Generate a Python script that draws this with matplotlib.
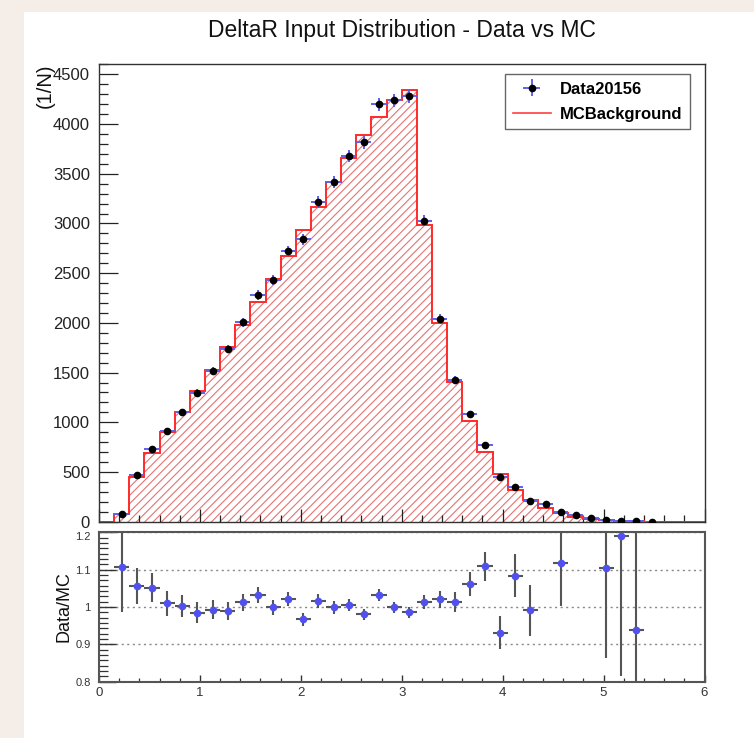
import numpy as np
import matplotlib
matplotlib.use("Agg")
import matplotlib.pyplot as plt
from matplotlib.patches import Rectangle
from matplotlib.lines import Line2D
from matplotlib.ticker import MultipleLocator

plt.rcParams['font.family'] = ['Liberation Sans', 'DejaVu Sans']
plt.rcParams['hatch.linewidth'] = 0.8

# Binning: 40 bins of width 0.15 between 0 and 6
bin_edges = np.linspace(0.0, 6.0, 41)
bin_centers = 0.5 * (bin_edges[:-1] + bin_edges[1:])

# Observed event counts per bin
data_counts = [
    0, 82, 470, 732, 913, 1105, 1296, 1515, 1735, 2005,
    2280, 2435, 2725, 2840, 3215, 3415, 3680, 3815, 4200, 4240,
    4280, 3026, 2040, 1430, 1080, 775, 445, 350, 212, 175,
    94, 64, 38, 21, 10, 3, 2, 0, 0, 0,
]

# Simulated background prediction per bin
mc_counts = [
    0, 74, 445, 696, 904, 1102, 1316, 1527, 1754, 1981,
    2209, 2437, 2669, 2937, 3164, 3418, 3662, 3893, 4070, 4244,
    4341, 2987, 1998, 1410, 1017, 699, 478, 323, 214, 135,
    84, 50, 28, 19, 8.4, 3.2, 0, 0, 0, 0,
]

main_yticks = [0, 500, 1000, 1500, 2000, 2500, 3000, 3500, 4000, 4500]
ratio_yticks = [0.8, 0.9, 1.0, 1.1, 1.2]
ratio_ytick_labels = ['0.8', '0.9', '1', '1.1', '1.2']
xticks = [0, 1, 2, 3, 4, 5, 6]

data = np.array(data_counts, dtype=float)
mc = np.array(mc_counts, dtype=float)
half_width = 0.075
ratio_lo, ratio_hi = 0.8, 1.2

W, H = 754, 738
fig = plt.figure(figsize=(W / 100, H / 100), dpi=100, facecolor='#f5ede8')
fig.patches.append(Rectangle((24 / W, 0), 1 - 24 / W, 1 - 12 / H,
                             transform=fig.transFigure, facecolor='white',
                             edgecolor='none', zorder=-10))

def px_axes(left, top, right, bottom):
    return fig.add_axes([left / W, 1 - bottom / H, (right - left) / W, (bottom - top) / H])

ax = px_axes(99, 64, 704.5, 521.7)
rax = px_axes(99, 532.3, 704.5, 681.7)

# ---- main panel: MC histogram (hatched) and data points ----
mc_step = np.append(mc, mc[-1])
ax.fill_between(bin_edges, 0, mc_step, step='post', facecolor='none',
                edgecolor='#e87272', hatch='////', linewidth=0, zorder=1)
ax.stairs(mc, bin_edges, color='#ff2a2a', linewidth=1.4, zorder=2)

sel = data > 0
ax.errorbar(bin_centers[sel], data[sel], xerr=half_width, yerr=np.sqrt(data[sel]),
            fmt='none', ecolor='#6060ee', elinewidth=1.4, capsize=0, zorder=3)
ax.plot(bin_centers[sel], data[sel], 'o', color='black', markersize=4.5, zorder=4)

ax.set_xlim(0, 6)
ax.set_ylim(0, 4604)
ax.set_yticks(main_yticks)
ax.yaxis.set_minor_locator(MultipleLocator(100))
ax.set_xticks(xticks)
ax.xaxis.set_minor_locator(MultipleLocator(0.2))
ax.tick_params(axis='y', which='major', direction='in', length=13.7, width=0.9,
               labelsize=12, pad=6.5, colors='#222222')
ax.tick_params(axis='y', which='minor', direction='in', length=6.5, width=0.9,
               colors='#222222')
ax.tick_params(axis='x', which='major', direction='in', length=9.4, width=0.9,
               labelbottom=False, colors='#222222')
ax.tick_params(axis='x', which='minor', direction='in', length=4.7, width=0.9,
               colors='#222222')
for s in ax.spines.values():
    s.set_color('#333333')
    s.set_linewidth(1.0)

fig.text(45 / W, 1 - 63 / H, '(1/N)', rotation=90, ha='center', va='top',
         fontsize=14.5, color='#111111')

data_handle = ax.errorbar([], [], xerr=[], yerr=[], fmt='o', color='black',
                          ecolor='#6060ee', markersize=4.5, elinewidth=1.4)
mc_handle = Line2D([], [], color='#ff4040', linewidth=1.2)
leg = ax.legend([data_handle, mc_handle], ['Data20156', 'MCBackground'],
                loc='upper right', bbox_to_anchor=(690 / W, 1 - 74 / H),
                bbox_transform=fig.transFigure, borderaxespad=0, fancybox=False,
                framealpha=1, edgecolor='#666666',
                prop={'weight': 'bold', 'size': 12},
                borderpad=0.45, handlelength=2.3, handletextpad=0.55,
                labelspacing=0.6)
leg.get_frame().set_linewidth(1.0)

fig.text(402 / W, 1 - 30 / H, 'DeltaR Input Distribution - Data vs MC',
         ha='center', va='center', fontsize=16.5, color='#111111')

# ---- ratio panel: only points inside the displayed range are drawn ----
ok = (mc > 0) & (data > 0)
ratio = np.zeros_like(data)
ratio[ok] = data[ok] / mc[ok]
ok &= (ratio >= ratio_lo) & (ratio <= ratio_hi)
ratio_err = np.sqrt(data[ok]) / mc[ok]
for yv in [0.9, 1.0, 1.1, 1.2]:
    rax.axhline(yv, color='#888888', linestyle=(0, (1.5, 2.5)), linewidth=1.0, zorder=1)
rax.errorbar(bin_centers[ok], ratio[ok], xerr=half_width, yerr=ratio_err, fmt='none',
             ecolor='#555555', elinewidth=1.5, capsize=0, zorder=2)
rax.plot(bin_centers[ok], ratio[ok], 'o', color='#5050ee', markersize=4.5, zorder=3)

rax.set_xlim(0, 6)
rax.set_ylim(ratio_lo, ratio_hi)
rax.set_yticks(ratio_yticks)
rax.set_yticklabels(ratio_ytick_labels)
rax.get_yticklabels()[-1].set_va('top')
rax.yaxis.set_minor_locator(MultipleLocator(0.1 / 7))
rax.set_xticks(xticks)
rax.xaxis.set_minor_locator(MultipleLocator(0.2))
rax.tick_params(axis='y', which='major', direction='in', length=12, width=1.0,
                labelsize=8, pad=6, colors='#333333')
rax.tick_params(axis='y', which='minor', direction='in', length=6.5, width=0.9,
                colors='#333333')
rax.tick_params(axis='x', which='major', direction='in', length=5, width=1.0,
                labelsize=9.5, pad=4, colors='#333333')
rax.tick_params(axis='x', which='minor', direction='in', length=3, width=0.9,
                colors='#333333')
rax.set_ylabel('Data/MC', fontsize=13, color='#111111')
rax.yaxis.set_label_coords(73 / W, 1 - 607 / H, transform=fig.transFigure)
for s in rax.spines.values():
    s.set_color('#555555')
    s.set_linewidth(1.5)

fig.savefig('out.png', dpi=100, facecolor=fig.get_facecolor())
